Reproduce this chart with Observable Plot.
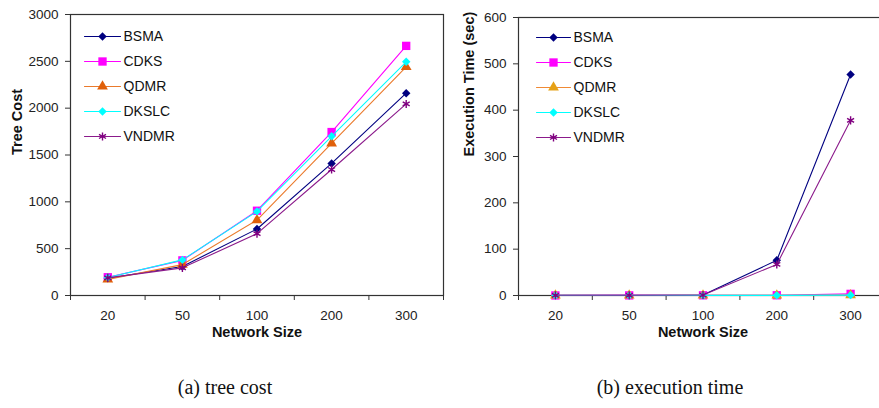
<!DOCTYPE html>
<html>
<head>
<meta charset="utf-8">
<script src="https://cdn.jsdelivr.net/npm/d3@7"></script>
<script src="https://cdn.jsdelivr.net/npm/@observablehq/plot@0.6"></script>
<style>
  html, body { margin: 0; padding: 0; background: #fff; overflow: hidden; }
  #root { position: relative; width: 879px; height: 408px; overflow: hidden; background: #fff; }
  #root > div, #root > svg { position: absolute; }
  .cap { position: absolute; font-family: "Liberation Serif", "Times New Roman", serif; font-size: 20px; color: #111; transform: translateX(-50%); white-space: nowrap; }
</style>
</head>
<body>
<div id="root"></div>
<script>
// ---------- data ----------
const categories = ["20", "50", "100", "200", "300"];
const seriesNames = ["BSMA", "CDKS", "QDMR", "DKSLC", "VNDMR"];

// (a) tree cost
const costBSMA  = [185, 310, 710, 1410, 2160];
const costCDKS  = [195, 375, 905, 1745, 2665];
const costQDMR  = [172, 330, 805, 1625, 2440];
const costDKSLC = [192, 380, 898, 1700, 2495];
const costVNDMR = [188, 295, 660, 1345, 2045];

// (b) execution time (sec)
const timeBSMA  = [0.5, 0.6, 1.2, 76, 477];
const timeCDKS  = [0.1, 0.2, 0.4, 0.5, 3.5];
const timeQDMR  = [0.1, 0.1, 0.2, 0.3, 0.8];
const timeDKSLC = [0.1, 0.1, 0.2, 0.3, 0.8];
const timeVNDMR = [0.4, 0.5, 1.0, 67, 378];

const costTicks = [0, 500, 1000, 1500, 2000, 2500, 3000];
const timeTicks = [0, 100, 200, 300, 400, 500, 600];

// ---------- styles ----------
const symbols = ["diamond2", "square", "triangle", "diamond2", "asterisk"];
const radii = [3.8, 4.7, 4.0, 3.8, 3.8];
const lineColorsA = ["#000080", "#ff00ff", "#ea7a2c", "#00ffff", "#8b1a8b"];
const markColorsA = ["#000080", "#ff00ff", "#e0600a", "#00ffff", "#800080"];
const lineColorsB = ["#000080", "#ff00ff", "#f08a35", "#00ffff", "#8b1a8b"];
const markColorsB = ["#000080", "#ff00ff", "#e6a116", "#00ffff", "#800080"];
const FONT = "'Liberation Sans', Arial, sans-serif";
const AXIS = "#333";

function longData(arrays) {
  return arrays.flatMap((vals, s) => vals.map((v, i) => ({series: seriesNames[s], i, v})));
}

function chart({arrays, ticks, ymax, title, width, height, mt, mb, ml, mr, lineColors, markColors, titleDx}) {
  const data = longData(arrays);
  const bounds = d3.range(categories.length + 1).map(k => k - 0.5);
  const marks = [];
  seriesNames.forEach((name, s) => {
    const d = data.filter(r => r.series === name);
    marks.push(Plot.line(d, {x: "i", y: "v", stroke: lineColors[s], strokeWidth: 1.1}));
    if (symbols[s] === "asterisk") {
      marks.push(Plot.dot(d, {x: "i", y: "v", symbol: () => symbols[s], r: radii[s], stroke: markColors[s], strokeWidth: 1.4, fill: "none"}));
    } else {
      marks.push(Plot.dot(d, {x: "i", y: "v", symbol: () => symbols[s], r: radii[s], fill: markColors[s], stroke: "none"}));
    }
  });
  return Plot.plot({
    width, height,
    marginTop: mt, marginBottom: mb, marginLeft: ml, marginRight: mr,
    style: {fontFamily: FONT, fontSize: "13px", color: "#222", background: "transparent", overflow: "visible"},
    x: {domain: [-0.5, categories.length - 0.5], axis: null},
    y: {domain: [0, ymax], axis: null},
    symbol: {type: "identity"},
    marks: [
      Plot.frame({stroke: AXIS, strokeWidth: 1.2}),
      Plot.axisY({ticks, tickSize: 5, tickPadding: 7, stroke: AXIS, fontSize: 13.5, label: null, tickFormat: d => String(d)}),
      Plot.axisX({ticks: bounds, tickSize: 5, stroke: AXIS, tickFormat: () => "", label: null}),
      Plot.axisX({ticks: d3.range(categories.length), tickSize: 0, tickPadding: 15, fontSize: 13.5, tickFormat: i => categories[i], label: null}),
      ...marks,
      Plot.text(["Network Size"], {frameAnchor: "bottom", dy: 41, fontWeight: "bold", fontSize: 14.5, fill: "#111"}),
      Plot.text([title], {frameAnchor: "left", dx: titleDx, rotate: -90, fontWeight: "bold", fontSize: 14.5, fill: "#111"})
    ]
  });
}

function legend({lineColors, markColors, lineLen, spacing}) {
  const rows = seriesNames.map((name, s) => ({name, s}));
  const segs = rows.flatMap(r => [{name: r.name, s: r.s, t: 0}, {name: r.name, s: r.s, t: 1}]);
  const mt = 10;
  const marks = [];
  rows.forEach(r => {
    marks.push(Plot.line(segs.filter(d => d.s === r.s), {x: "t", y: "name", stroke: lineColors[r.s], strokeWidth: 1.1}));
    const common = {x: () => 0.5, y: "name", symbol: () => symbols[r.s], r: radii[r.s]};
    if (symbols[r.s] === "asterisk") marks.push(Plot.dot([r], {...common, stroke: markColors[r.s], strokeWidth: 1.4, fill: "none"}));
    else marks.push(Plot.dot([r], {...common, fill: markColors[r.s], stroke: "none"}));
  });
  marks.push(Plot.text(rows, {x: () => 1, y: "name", text: "name", textAnchor: "start", dx: 3, fontSize: 14, fill: "#111"}));
  return Plot.plot({
    width: 130, height: mt + spacing * 4 + 20,
    marginTop: mt, marginBottom: 20, marginLeft: 0, marginRight: 130 - lineLen,
    style: {fontFamily: FONT, background: "transparent", overflow: "visible"},
    x: {domain: [0, 1], axis: null},
    y: {type: "point", domain: seriesNames, padding: 0, axis: null},
    symbol: {type: "identity"},
    marks
  });
}

const root = document.getElementById("root");

const a = chart({
  arrays: [costBSMA, costCDKS, costQDMR, costDKSLC, costVNDMR],
  ticks: costTicks, ymax: 3000, title: "Tree Cost",
  width: 445, height: 340, mt: 14, mb: 45, ml: 70, mr: 2,
  lineColors: lineColorsA, markColors: markColorsA, titleDx: -53
});
a.style.left = "0px"; a.style.top = "0px";
root.appendChild(a);

const b = chart({
  arrays: [timeBSMA, timeCDKS, timeQDMR, timeDKSLC, timeVNDMR],
  ticks: timeTicks, ymax: 600, title: "Execution Time (sec)",
  width: 449, height: 340, mt: 17, mb: 45, ml: 78, mr: 2,
  lineColors: lineColorsB, markColors: markColorsB, titleDx: -49
});
b.style.left = "440px"; b.style.top = "0px";
root.appendChild(b);

const la = legend({lineColors: lineColorsA, markColors: markColorsA, lineLen: 36, spacing: 25.4});
la.style.left = "84px"; la.style.top = (35 - 10) + "px";
root.appendChild(la);

const lb = legend({lineColors: lineColorsB, markColors: markColorsB, lineLen: 34, spacing: 25.1});
lb.style.left = "536px"; lb.style.top = (36.7 - 10) + "px";
root.appendChild(lb);

for (const [txt, cx] of [["(a) tree cost", 225], ["(b) execution time", 670]]) {
  const c = document.createElement("div");
  c.className = "cap";
  c.textContent = txt;
  c.style.left = cx + "px";
  c.style.top = "376px";
  root.appendChild(c);
}
</script>
</body>
</html>
